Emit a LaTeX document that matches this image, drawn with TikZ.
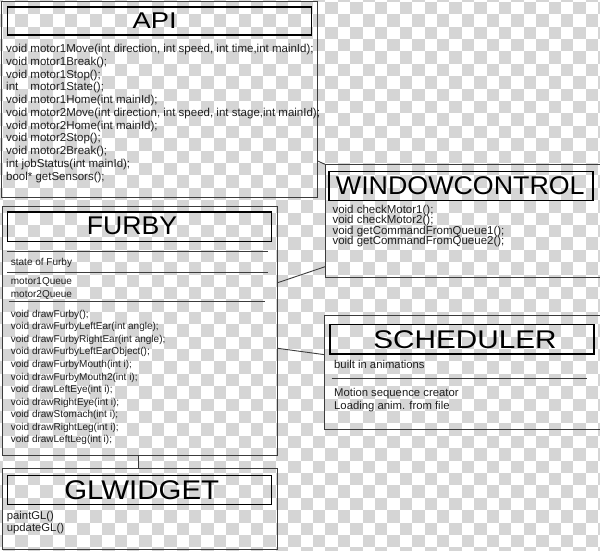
\documentclass[tikz,border=0pt]{standalone}
\usepackage{fontspec}
\usepackage{graphicx}
\setmainfont{Liberation Sans}
\definecolor{chk}{RGB}{213,213,213}
\definecolor{edge}{RGB}{60,60,60}
\definecolor{txt}{RGB}{30,30,30}
\begin{document}
\begin{tikzpicture}[x=1pt,y=-1pt,
  outerbox/.style={draw=edge, line width=1pt, inner sep=0pt, anchor=north west},
  titlebox/.style={draw=black, line width=1.3pt, inner sep=0pt, anchor=north west},
  conn/.style={draw=edge, line width=0.9pt},
  sep/.style={draw=edge, line width=0.9pt},
  body/.style={anchor=base west, inner sep=0pt, text=txt},
  ttl/.style={anchor=center, inner sep=0pt, text=black}]
\useasboundingbox (0,0) rectangle (600,550);
% checkerboard background
\begin{scope}
\clip (0,0) rectangle (600,550);
\fill[white] (0,0) rectangle (600,550);
\foreach \j in {-1,...,44}{
  \foreach \k in {-1,...,24}{
    \pgfmathsetmacro\xx{3+(2*\k+mod(\j+2,2))*12.4}
    \pgfmathsetmacro\yy{1.7+\j*12.4}
    \fill[chk] (\xx,\yy) rectangle ++(12.4,12.4);
  }
}
\end{scope}
% boxes
\node[outerbox, minimum width=315.7pt, minimum height=195.5pt] (api) at (1,1) {};
\node[titlebox, minimum width=304pt, minimum height=28pt] (apititle) at (7,6.3) {};
\node[outerbox, minimum width=275pt, minimum height=249.5pt] (furby) at (1.7,205.5) {};
\node[titlebox, minimum width=263.7pt, minimum height=29.4pt] (furbytitle) at (7,211.3) {};
\node[outerbox, minimum width=274.5pt, minimum height=113pt] (wc) at (325,164.3) {};
\node[titlebox, minimum width=264pt, minimum height=29.5pt] (wctitle) at (328.3,170.5) {};
\node[outerbox, minimum width=275.5pt, minimum height=114.3pt] (sch) at (324,315) {};
\node[titlebox, minimum width=264pt, minimum height=29.3pt] (schtitle) at (329.3,324) {};
\node[outerbox, minimum width=275pt, minimum height=80.8pt] (glw) at (1.7,467.7) {};
\node[titlebox, minimum width=264pt, minimum height=29pt] (glwtitle) at (6.7,475) {};
% titles
\node[ttl, font=\fontsize{22.8}{24}\selectfont] (apiname) at (154.7,20.8) {\scalebox{1.2}[1]{API}};
\node[ttl, font=\fontsize{25.6}{27}\selectfont] (furbyname) at (132,225.8) {\scalebox{1.04}[1]{FURBY}};
\node[ttl, font=\fontsize{25.6}{27}\selectfont] (wcname) at (460.3,185.8) {\scalebox{1.047}[1]{WINDOWCONTROL}};
\node[ttl, font=\fontsize{25.6}{27}\selectfont] (schname) at (465,339.2) {\scalebox{1.16}[1]{SCHEDULER}};
\node[ttl, font=\fontsize{27}{29}\selectfont] (glwname) at (141.7,489.7) {\scalebox{1.09}[1]{GLWIDGET}};
% API body
\foreach \t [count=\i] in {
  {void motor1Move(int direction, int speed, int time,int mainId);},
  {void motor1Break();},
  {void motor1Stop();},
  {\makebox[2.112em][l]{int}motor1State();},
  {void motor1Home(int mainId);},
  {void motor2Move(int direction, int speed, int stage,int mainId);},
  {void motor2Home(int mainId);},
  {void motor2Stop();},
  {void motor2Break();},
  {int jobStatus(int mainId);},
  {bool* getSensors();}}
  \node[body, font=\fontsize{11.5}{12}\selectfont] (api-\i) at (6,{52.7+12.73*(\i-1)}) {\t};
% FURBY body
\node[body, font=\fontsize{10}{11}\selectfont] (furby-state) at (10.7,265.7) {state of Furby};
\node[body, font=\fontsize{10}{11}\selectfont] (furby-q1) at (10.7,284.3) {motor1Queue};
\node[body, font=\fontsize{10}{11}\selectfont] (furby-q2) at (10.7,297.3) {motor2Queue};
\draw[sep] (7,251.7) -- (268,251.7);
\draw[sep] (7,272.7) -- (268,272.7);
\draw[sep] (9,301.7) -- (265,301.7);
\foreach \t [count=\i] in {
  {void drawFurby();},
  {void drawFurbyLeftEar(int angle);},
  {void drawFurbyRightEar(int angle);},
  {void drawFurbyLeftEarObject();},
  {void drawFurbyMouth(int i);},
  {void drawFurbyMouth2(int i);},
  {void drawLeftEye(int i);},
  {void drawRightEye(int i);},
  {void drawStomach(int i);},
  {void drawRightLeg(int i);},
  {void drawLeftLeg(int i);}}
  \node[body, font=\fontsize{10}{11}\selectfont] (furby-m\i) at (10.7,{317.3+12.54*(\i-1)}) {\t};
% WINDOWCONTROL body
\foreach \t [count=\i] in {
  {void checkMotor1();},
  {void checkMotor2();},
  {void getCommandFromQueue1();},
  {void getCommandFromQueue2();}}
  \node[body, font=\fontsize{11.5}{12}\selectfont] (wc-\i) at (332.3,{213.3+10.55*(\i-1)}) {\t};
% SCHEDULER body
\node[body, font=\fontsize{11.3}{12}\selectfont] (sch-1) at (334,368.3) {built in animations};
\draw[sep] (331.7,378.7) -- (587.3,378.7);
\node[body, font=\fontsize{11.3}{12}\selectfont] (sch-2) at (334,396) {Motion sequence creator};
\node[body, font=\fontsize{11.3}{12}\selectfont] (sch-3) at (334,409) {Loading anim. from file};
% GLWIDGET body
\node[body, font=\fontsize{11.3}{12}\selectfont] (glw-1) at (6.7,519.3) {paintGL()};
\node[body, font=\fontsize{11.3}{12}\selectfont] (glw-2) at (6.7,531.7) {updateGL()};
% connectors
\draw[conn] (api.east |- 0,161) -- (wc.north west);
\draw[conn] (furby.east |- 0,282.7) -- (wc.west |- 0,266.7);
\draw[conn] (furby.east |- 0,348.3) -- (sch.west |- 0,354.6);
\draw[conn] (furby.south -| 138.3,0) -- (glw.north -| 138.3,0);
\end{tikzpicture}
\end{document}
